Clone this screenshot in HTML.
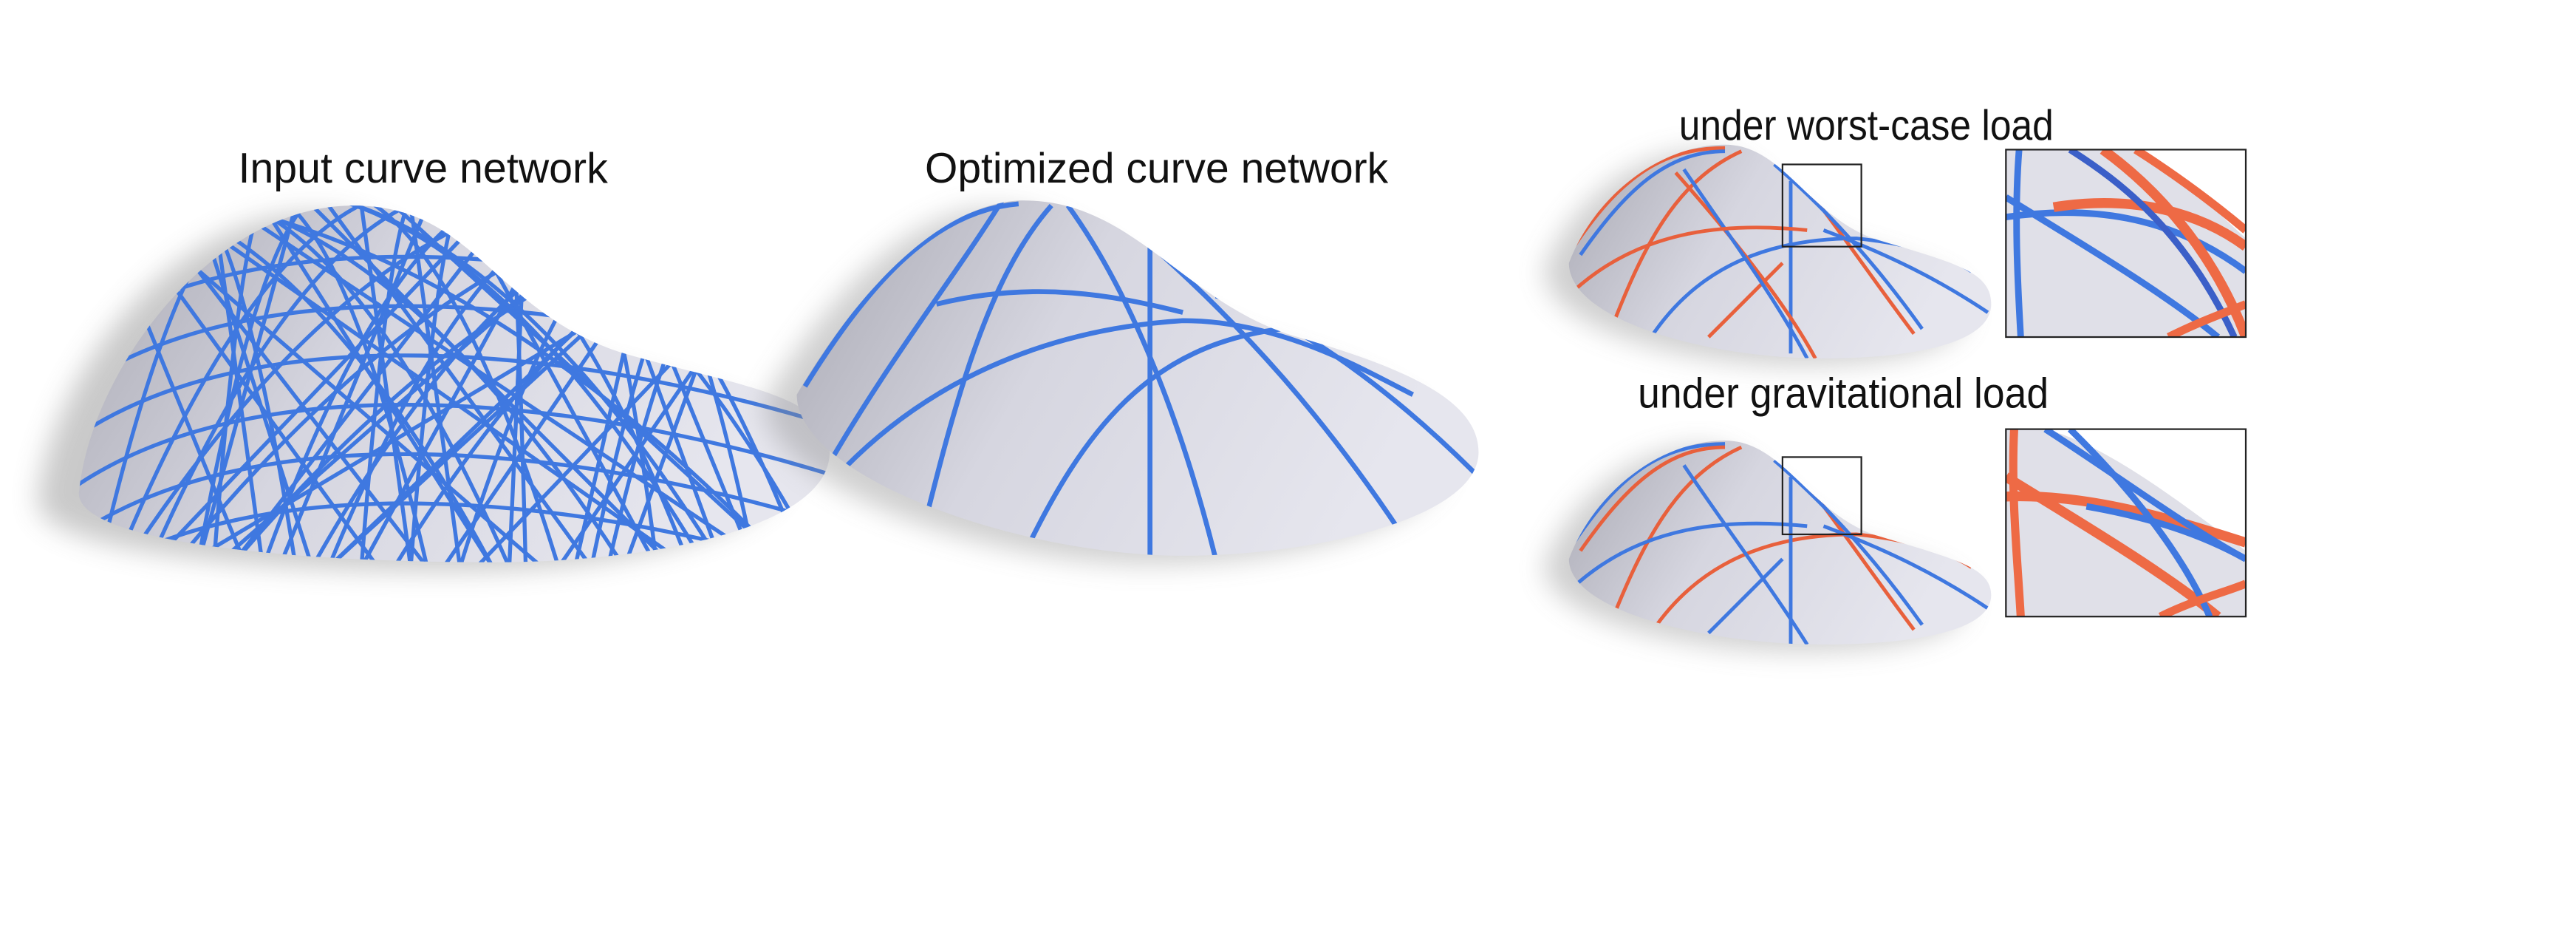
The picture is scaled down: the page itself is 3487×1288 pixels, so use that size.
<!DOCTYPE html>
<html><head><meta charset="utf-8"><style>
html,body{margin:0;padding:0;background:#fff;}
svg{display:block;}
text{font-family:"Liberation Sans",sans-serif;fill:#111;}
</style></head><body>
<svg width="3487" height="1288" viewBox="0 0 1568 579" preserveAspectRatio="none" xmlns="http://www.w3.org/2000/svg">
<defs>
<linearGradient id="g" x1="0" y1="0" x2="1" y2="0.3"><stop offset="0" stop-color="#a9a9b3"/><stop offset="0.45" stop-color="#d6d6e0"/><stop offset="1" stop-color="#e6e6ee"/></linearGradient>
<filter id="sh" x="-20%" y="-20%" width="140%" height="140%"><feGaussianBlur stdDeviation="8"/></filter>
<clipPath id="c1"><path id="p1" d="M48,300 C55,225 130,125 215,125 C290,125 300,190 380,215 C450,235 505,240 505,275 C505,320 400,342 300,342 C180,342 48,330 48,300 Z"/></clipPath>
<clipPath id="c2"><path id="p2" d="M485,240 C520,180 570,125 620,122 C690,120 720,185 790,205 C860,225 900,245 900,275 C900,315 800,338 720,338 C620,338 485,290 485,240 Z"/></clipPath>
<clipPath id="c3"><path id="p3" d="M955,160 C970,120 1010,88 1050,88 C1085,88 1100,130 1140,145 C1190,160 1212,165 1212,185 C1212,210 1160,218 1110,218 C1040,218 955,195 955,160 Z"/></clipPath>
<clipPath id="c4"><path id="p4" d="M955,340 C970,300 1010,268 1050,268 C1085,268 1100,310 1140,325 C1190,340 1212,345 1212,362 C1212,385 1160,392 1110,392 C1040,392 955,372 955,340 Z"/></clipPath>
<clipPath id="ci1"><rect x="1221" y="91" width="146" height="114"/></clipPath>
<clipPath id="ci2"><rect x="1221" y="261" width="146" height="114"/></clipPath>
</defs>

<text x="145" y="111" font-size="26" textLength="225" lengthAdjust="spacingAndGlyphs">Input curve network</text>
<text x="563" y="111" font-size="26" textLength="282" lengthAdjust="spacingAndGlyphs">Optimized curve network</text>
<text x="1022" y="85" font-size="26" textLength="228" lengthAdjust="spacingAndGlyphs">under worst-case load</text>
<text x="997" y="248" font-size="26" textLength="250" lengthAdjust="spacingAndGlyphs">under gravitational load</text>

<g>
<use href="#p1" fill="#888" opacity="0.45" filter="url(#sh)" transform="translate(-25,5)"/>
<use href="#p1" fill="url(#g)"/>
<g id="lines1" clip-path="url(#c1)" stroke="#3f78e0" stroke-width="2.4" fill="none"></g>
</g>

<g>
<use href="#p2" fill="#888" opacity="0.4" filter="url(#sh)" transform="translate(-20,5)"/>
<use href="#p2" fill="url(#g)"/>
<g clip-path="url(#c2)" stroke="#3f78e0" stroke-width="3" fill="none">
<path d="M490,235 C530,170 570,128 620,124"/>
<path d="M500,290 C540,220 580,170 610,122"/>
<path d="M560,330 C580,250 600,170 640,125"/>
<path d="M622,340 C660,260 700,210 780,200"/>
<path d="M700,340 L700,125"/>
<path d="M740,340 C720,260 690,180 650,125"/>
<path d="M852,323 C810,260 760,200 690,140"/>
<path d="M900,290 C840,230 780,190 740,180"/>
<path d="M500,300 C560,230 640,200 720,195 C780,195 830,225 860,240"/>
<path d="M570,185 C630,170 680,180 720,190"/>
</g>
</g>

<g>
<use href="#p3" fill="#888" opacity="0.4" filter="url(#sh)" transform="translate(-15,4)"/>
<use href="#p3" fill="url(#g)"/>
<g clip-path="url(#c3)" fill="none" stroke-width="2.2">
<path d="M958,150 C985,110 1010,90 1050,90" stroke="#e8603c"/>
<path d="M962,155 C990,115 1015,92 1050,92" stroke="#3f78e0"/>
<path d="M980,202 C1000,150 1020,110 1060,92" stroke="#e8603c"/>
<path d="M1005,205 C1035,160 1080,145 1130,145 C1160,148 1185,155 1200,165" stroke="#3f78e0"/>
<path d="M1040,205 L1085,160" stroke="#e8603c"/>
<path d="M1090,215 L1090,110" stroke="#3f78e0"/>
<path d="M1105,218 C1090,190 1060,150 1020,105" stroke="#e8603c"/>
<path d="M1100,218 C1080,180 1050,140 1025,103" stroke="#3f78e0"/>
<path d="M1165,203 C1140,170 1120,140 1085,95" stroke="#e8603c"/>
<path d="M1170,200 C1145,165 1115,130 1080,100" stroke="#3f78e0"/>
<path d="M1210,190 C1180,170 1150,155 1110,140" stroke="#3f78e0"/>
<path d="M960,175 C1000,140 1050,135 1100,140" stroke="#e8603c"/>
</g>
<rect x="1085" y="100" width="48" height="50" fill="none" stroke="#222" stroke-width="1"/>
</g>

<g>
<rect x="1221" y="91" width="146" height="114" fill="#e0e0e8"/>
<path d="M1300,91 L1367,91 L1367,145 C1340,120 1320,100 1300,91 Z" fill="#fff"/>
<g clip-path="url(#ci1)" fill="none">
<path d="M1229,91 C1226,130 1228,170 1230,205" stroke="#3f78e0" stroke-width="4"/>
<path d="M1221,132 C1270,125 1320,130 1367,165" stroke="#3f78e0" stroke-width="4"/>
<path d="M1250,126 C1300,118 1340,130 1367,150" stroke="#ee6a45" stroke-width="6"/>
<path d="M1221,120 C1270,150 1320,180 1350,205" stroke="#3f78e0" stroke-width="4"/>
<path d="M1260,91 C1290,110 1330,140 1360,205" stroke="#3b5fc8" stroke-width="4"/>
<path d="M1280,91 C1320,120 1350,160 1367,205" stroke="#ee6a45" stroke-width="6"/>
<path d="M1300,91 C1330,110 1355,130 1367,140" stroke="#ee6a45" stroke-width="5"/>
<path d="M1320,205 C1340,195 1355,190 1367,185" stroke="#ee6a45" stroke-width="5"/>
</g>
<rect x="1221" y="91" width="146" height="114" fill="none" stroke="#222" stroke-width="1"/>
</g>

<g>
<use href="#p4" fill="#888" opacity="0.4" filter="url(#sh)" transform="translate(-15,4)"/>
<use href="#p4" fill="url(#g)"/>
<g clip-path="url(#c4)" fill="none" stroke-width="2.2">
<path d="M958,330 C985,290 1010,270 1050,270" stroke="#3f78e0"/>
<path d="M962,335 C990,295 1015,272 1050,272" stroke="#e8603c"/>
<path d="M980,380 C1000,330 1020,290 1060,272" stroke="#e8603c"/>
<path d="M1005,385 C1035,340 1080,325 1130,325 C1160,328 1185,335 1200,345" stroke="#e8603c"/>
<path d="M1040,385 L1085,340" stroke="#3f78e0"/>
<path d="M1090,392 L1090,290" stroke="#3f78e0"/>
<path d="M1100,392 C1080,360 1050,320 1025,283" stroke="#3f78e0"/>
<path d="M1165,383 C1140,350 1120,320 1085,275" stroke="#e8603c"/>
<path d="M1170,380 C1145,345 1115,310 1080,280" stroke="#3f78e0"/>
<path d="M1210,370 C1180,350 1150,335 1110,320" stroke="#3f78e0"/>
<path d="M960,355 C1000,320 1050,315 1100,320" stroke="#3f78e0"/>
</g>
<rect x="1085" y="278" width="48" height="47" fill="none" stroke="#222" stroke-width="1"/>
</g>

<g>
<rect x="1221" y="261" width="146" height="114" fill="#e0e0e8"/>
<path d="M1245,261 L1367,261 L1367,335 C1320,300 1280,270 1245,261 Z" fill="#fff"/>
<g clip-path="url(#ci2)" fill="none">
<path d="M1226,261 C1224,300 1228,340 1230,375" stroke="#ee6a45" stroke-width="5"/>
<path d="M1221,302 C1270,300 1320,315 1367,330" stroke="#ee6a45" stroke-width="6"/>
<path d="M1270,308 C1310,315 1340,325 1367,340" stroke="#3f78e0" stroke-width="4"/>
<path d="M1221,290 C1270,320 1320,350 1350,375" stroke="#ee6a45" stroke-width="6"/>
<path d="M1245,261 C1290,290 1330,320 1367,340" stroke="#3f78e0" stroke-width="4"/>
<path d="M1260,261 C1300,300 1330,340 1345,375" stroke="#3f78e0" stroke-width="4"/>
<path d="M1315,375 C1335,365 1355,360 1367,355" stroke="#ee6a45" stroke-width="5"/>
</g>
<rect x="1221" y="261" width="146" height="114" fill="none" stroke="#222" stroke-width="1"/>
</g>
</svg>
<script>
var g=document.getElementById('lines1');
var ns='http://www.w3.org/2000/svg';
var starts=[60,75,90,105,120,140,160,180,200,220,240,260,280,300,320,340,360,380,400,420,440,460,480,500,70,130,190,250,310,370,430,490];
var ends=[150,330,260,420,190,470,300,120,360,250,480,170,400,90,310,220,440,130,350,270,200,380,110,290,230,160,410,280,140,460,200,340];
for(var i=0;i<starts.length;i++){
  var p=document.createElementNS(ns,'path');
  
  
  p.setAttribute('d','M'+starts[i]+',345 Q'+((starts[i]+ends[i])/2)+',150 '+ends[i]+',120');
  g.appendChild(p);
  var q=document.createElementNS(ns,'path');
  
  
  q.setAttribute('d','M'+ends[i]+',345 L'+starts[i]+',125');
  g.appendChild(q);
}
var arcs=[170,200,230,260,290,320];
for(var j=0;j<arcs.length;j++){
  var a=document.createElementNS(ns,'path');
  
  
  a.setAttribute('d','M40,'+(arcs[j]+40)+' C150,'+(arcs[j]-40)+' 350,'+(arcs[j]-20)+' 510,'+(arcs[j]+30));
  g.appendChild(a);
}
</script>
</body></html>
